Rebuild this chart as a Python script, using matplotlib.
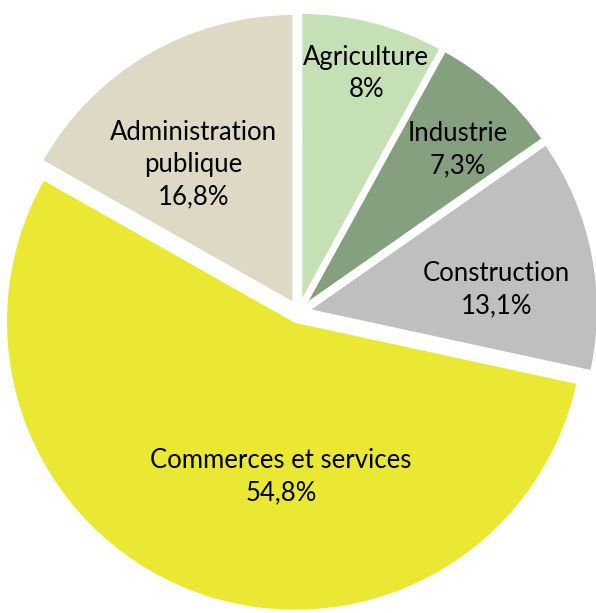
import matplotlib.pyplot as plt

# data
categories = ["Agriculture", "Industrie", "Construction", "Commerces et services", "Administration\npublique"]
shares = [8.0, 7.3, 13.1, 54.8, 16.8]
share_labels = ["8%", "7,3%", "13,1%", "54,8%", "16,8%"]
colors = ["#c5e0b4", "#84a07f", "#bfbfbf", "#ebe833", "#ddd9c5"]

# label centres (data units, pie radius = 1)
label_pos = [(0.234, 0.826), (0.55, 0.563), (0.685, 0.078), (-0.061, -0.569), (-0.364, 0.509)]

plt.rcParams['font.family'] = ['Lato', 'DejaVu Sans']

fig = plt.figure(figsize=(5.96, 6.13), dpi=100)
ax = fig.add_axes([0, 0, 1, 1])
ax.pie(shares, colors=colors, startangle=90, counterclock=False,
       explode=[0.036] * len(shares),
       wedgeprops=dict(edgecolor="white", linewidth=1.5))

for cat, lab, (x, y) in zip(categories, share_labels, label_pos):
    ax.text(x, y, f"{cat}\n{lab}", ha="center", va="center",
            fontsize=18.5, color="black", linespacing=1.36)

s = 289.0
ax.set_xlim(-298.7 / s, (596 - 298.7) / s)
ax.set_ylim(-(613 - 312.0) / s, 312.0 / s)
ax.set_aspect("equal")
ax.axis("off")

plt.savefig("out.png", dpi=100)
